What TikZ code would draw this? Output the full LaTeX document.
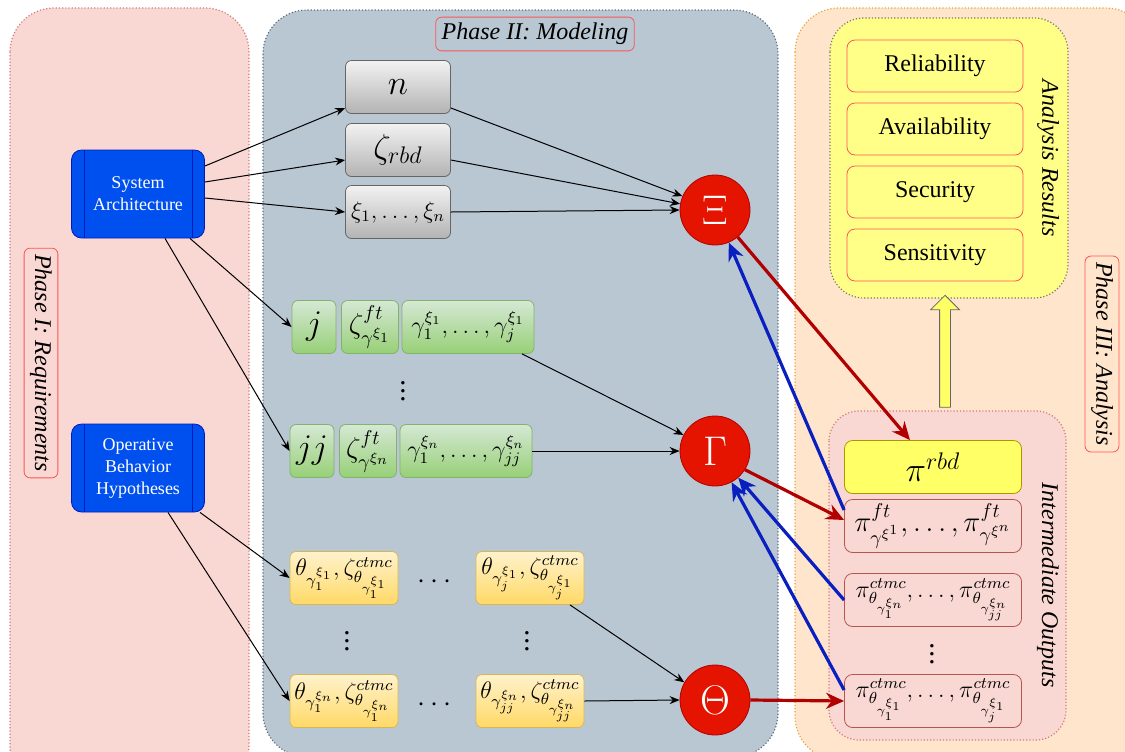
\documentclass[tikz,border=0pt]{standalone}
\usepackage{fontspec}
\setmainfont{Liberation Serif}
\usepackage{amsmath}
\usetikzlibrary{arrows.meta,shapes.arrows}

\definecolor{reqfill}{HTML}{F9D8D4}
\definecolor{reqline}{HTML}{D47A7A}
\definecolor{modfill}{HTML}{B9C7D3}
\definecolor{modline}{HTML}{5F6F80}
\definecolor{anafill}{HTML}{FFE5CC}
\definecolor{analine}{HTML}{E8A33D}
\definecolor{resfill}{HTML}{FFFF88}
\definecolor{resline}{HTML}{7A7A60}
\definecolor{lblred}{HTML}{FF5555}
\definecolor{archfill}{HTML}{0050EF}
\definecolor{archline}{HTML}{001DBC}
\definecolor{graytop}{HTML}{F2F2F2}
\definecolor{graybot}{HTML}{B3B3B3}
\definecolor{grayline}{HTML}{666666}
\definecolor{greentop}{HTML}{D5E8D4}
\definecolor{greenbot}{HTML}{97D077}
\definecolor{greenline}{HTML}{82B366}
\definecolor{yeltop}{HTML}{FFF2CC}
\definecolor{yelbot}{HTML}{FFD966}
\definecolor{yelline}{HTML}{D6B656}
\definecolor{rbdfill}{HTML}{FFFF66}
\definecolor{rbdline}{HTML}{B09500}
\definecolor{outline}{HTML}{B85450}
\definecolor{circfill}{HTML}{E51400}
\definecolor{circline}{HTML}{B20000}
\definecolor{arrred}{HTML}{B20000}
\definecolor{arrblue}{HTML}{0A1FBF}

\tikzset{
  panel/.style={rounded corners=22pt, densely dotted, line width=0.6pt},
  phaselabel/.style={draw=lblred, rounded corners=3pt, font=\large\itshape, inner sep=3pt},
  reqbox/.style={draw=archline, fill=archfill, rounded corners=5pt, text=white,
    font=\small, align=center, minimum width=66.5pt, minimum height=44pt, inner sep=1pt},
  graybox/.style={draw=grayline, top color=graytop, bottom color=graybot, rounded corners=3pt,
    minimum width=52.5pt, minimum height=26.5pt, inner sep=1pt},
  greenbox/.style={draw=greenline, top color=greentop, bottom color=greenbot, rounded corners=3pt,
    minimum height=26.5pt, inner sep=1pt},
  yelbox/.style={draw=yelline, top color=yeltop, bottom color=yelbot, rounded corners=3pt,
    minimum width=54pt, minimum height=26.5pt, inner sep=1pt},
  resbox/.style={draw=lblred, fill=resfill, rounded corners=4pt, font=\large,
    minimum width=88pt, minimum height=26pt},
  outbox/.style={draw=outline, fill=reqfill, rounded corners=4pt,
    minimum width=88.5pt, minimum height=26.5pt, inner sep=1pt},
  op/.style={circle, draw=circline, fill=circfill, text=white, font=\huge, minimum size=35pt, inner sep=0pt},
  thin/.style={-{Stealth[length=5pt,width=4pt]}, line width=0.5pt},
  redarr/.style={-{Stealth[length=9pt,width=8pt]}, line width=1.6pt, draw=arrred},
  bluearr/.style={-{Stealth[length=9pt,width=8pt]}, line width=1.6pt, draw=arrblue}
}

\begin{document}
\begin{tikzpicture}[x=0.5pt,y=-0.5pt]
\clip (0,0) rectangle (1125,751);
% phases
\draw[panel,fill=reqfill,draw=reqline] (10,8) rectangle (249,790);
\draw[panel,fill=modfill,draw=modline] (263,10) rectangle (778,757);
\draw[panel,fill=anafill,draw=analine] (795,8) rectangle (1150,760);
\draw[panel,rounded corners=17pt,fill=resfill,draw=resline] (830,18) rectangle (1068,298);
\draw[panel,rounded corners=15pt,fill=reqfill,draw=reqline] (829,411) rectangle (1066,740);
\node[phaselabel,rotate=-90] (lblreq) at (41,363) {Phase I: Requirements};
\node[phaselabel] (lblmod) at (535,34) {Phase II: Modeling};
\node[phaselabel,rotate=-90] (lblana) at (1102,354) {Phase III: Analysis};
\node[font=\large\itshape,rotate=-90] (lblres) at (1048,158) {Analysis Results};
\node[font=\large\itshape,rotate=-90] (lblout) at (1048,585) {Intermediate Outputs};

% Phase I
\node[reqbox] (sys) at (138,194) {System\\Architecture};
\node[reqbox] (obh) at (138,468) {Operative\\Behavior\\Hypotheses};
\foreach \b in {sys,obh}
  \draw[archline] ([xshift=6.5pt]\b.north west) -- ([xshift=6.5pt]\b.south west)
    ([xshift=-6.5pt]\b.north east) -- ([xshift=-6.5pt]\b.south east);

% Phase II
\node[graybox,font=\LARGE] (n) at (398,87) {$n$};
\node[graybox,font=\LARGE] (zrbd) at (398,150) {$\zeta_{rbd}$};
\node[graybox,font=\large] (xi) at (398,212) {$\xi_1,\ldots,\xi_n$};

\node[greenbox,minimum width=22pt,font=\LARGE] (j) at (314,327) {$j$};
\node[greenbox,minimum width=28.5pt,font=\Large] (zft1) at (370,327) {$\zeta^{ft}_{\gamma^{\xi_1}}$};
\node[greenbox,minimum width=66pt,font=\large] (g1) at (468,327) {$\gamma_1^{\xi_1},\ldots,\gamma_j^{\xi_1}$};
\node[font=\Large] (vd1) at (403,385) {$\vdots$};
\node[greenbox,minimum width=22pt,font=\LARGE] (jj) at (312,451) {$jj$};
\node[greenbox,minimum width=28.5pt,font=\Large] (zftn) at (368,451) {$\zeta^{ft}_{\gamma^{\xi_n}}$};
\node[greenbox,minimum width=66pt,font=\large] (gn) at (466,451) {$\gamma_1^{\xi_n},\ldots,\gamma_{jj}^{\xi_n}$};

\node[yelbox,font=\large] (t11) at (344,578) {$\theta_{\gamma_1^{\xi_1}},\zeta^{ctmc}_{\theta_{\gamma_1^{\xi_1}}}$};
\node[font=\Large] (hd1) at (437,582) {$\cdots$};
\node[yelbox,font=\large] (t1j) at (530,578) {$\theta_{\gamma_j^{\xi_1}},\zeta^{ctmc}_{\theta_{\gamma_j^{\xi_1}}}$};
\node[font=\Large] (vd2) at (347,635) {$\vdots$};
\node[font=\Large] (vd3) at (527,635) {$\vdots$};
\node[yelbox,font=\large] (tn1) at (344,701) {$\theta_{\gamma_1^{\xi_n}},\zeta^{ctmc}_{\theta_{\gamma_1^{\xi_n}}}$};
\node[font=\Large] (hd2) at (437,705) {$\cdots$};
\node[yelbox,font=\large] (tnj) at (530,701) {$\theta_{\gamma_{jj}^{\xi_n}},\zeta^{ctmc}_{\theta_{\gamma_{jj}^{\xi_n}}}$};

\node[op] (Xi) at (715,210) {$\Xi$};
\node[op] (Ga) at (715,451) {$\Gamma$};
\node[op] (Th) at (715,700) {$\Theta$};

% Phase III
\node[resbox] (rel) at (935,66) {Reliability};
\node[resbox] (ava) at (935,129) {Availability};
\node[resbox] (sec) at (935,192) {Security};
\node[resbox] (sen) at (935,255) {Sensitivity};
\node[single arrow, draw=grayline, fill=rbdfill, rotate=90, inner sep=2.5pt,
  minimum height=56pt, single arrow head extend=4.5pt] (up) at (945,354) {};

\node[outbox,draw=rbdline,fill=rbdfill,font=\LARGE] (prbd) at (933,467) {$\pi^{rbd}$};
\node[outbox,font=\Large] (pft) at (933,526) {$\pi^{ft}_{\gamma^{\xi^1}},\ldots,\pi^{ft}_{\gamma^{\xi^n}}$};
\node[outbox,font=\large] (pc1) at (933,600) {$\pi^{ctmc}_{\theta_{\gamma_1^{\xi_n}}},\ldots,\pi^{ctmc}_{\theta_{\gamma_{jj}^{\xi_n}}}$};
\node[font=\Large] (vd4) at (932,648) {$\vdots$};
\node[outbox,font=\large] (pc2) at (933,701) {$\pi^{ctmc}_{\theta_{\gamma_1^{\xi_1}}},\ldots,\pi^{ctmc}_{\theta_{\gamma_j^{\xi_1}}}$};

% thin connectors
\draw[thin] ([yshift=14pt]sys.east) -- ([yshift=-10.5pt]n.west);
\draw[thin] ([yshift=6pt]sys.east) -- ([yshift=-5pt]zrbd.west);
\draw[thin] ([yshift=-2pt]sys.east) -- (xi.west);
\draw[thin] ([xshift=26pt]sys.south) -- (j.west);
\draw[thin] ([xshift=13.5pt]sys.south) -- (jj.west);
\draw[thin] ([xshift=31pt]obh.south) -- (t11.west);
\draw[thin] ([xshift=15pt]obh.south) -- (tn1.west);
\draw[thin] ([yshift=-10.5pt]n.east) -- (Xi.157);
\draw[thin] ([yshift=-5pt]zrbd.east) -- (Xi.170);
\draw[thin] (xi.east) -- (Xi.west);
\draw[thin] ([xshift=27pt]g1.south) -- (Ga.153);
\draw[thin] (gn.east) -- (Ga.west);
\draw[thin] ([xshift=20pt]t1j.south) -- (Th.150);
\draw[thin] (tnj.east) -- (Th.west);

% thick connectors
\draw[redarr] (Xi.-50) -- ([xshift=-11.5pt]prbd.north);
\draw[redarr] (Ga.-32) -- ([yshift=3pt]pft.west);
\draw[redarr] (Th.east) -- (pc2.west);
\draw[bluearr] ([yshift=8pt]pft.west) -- (Xi.-67);
\draw[bluearr] (pc1.west) -- (Ga.-49);
\draw[bluearr] ([yshift=5.5pt]pc2.west) -- (Ga.-62);
\end{tikzpicture}
\end{document}
